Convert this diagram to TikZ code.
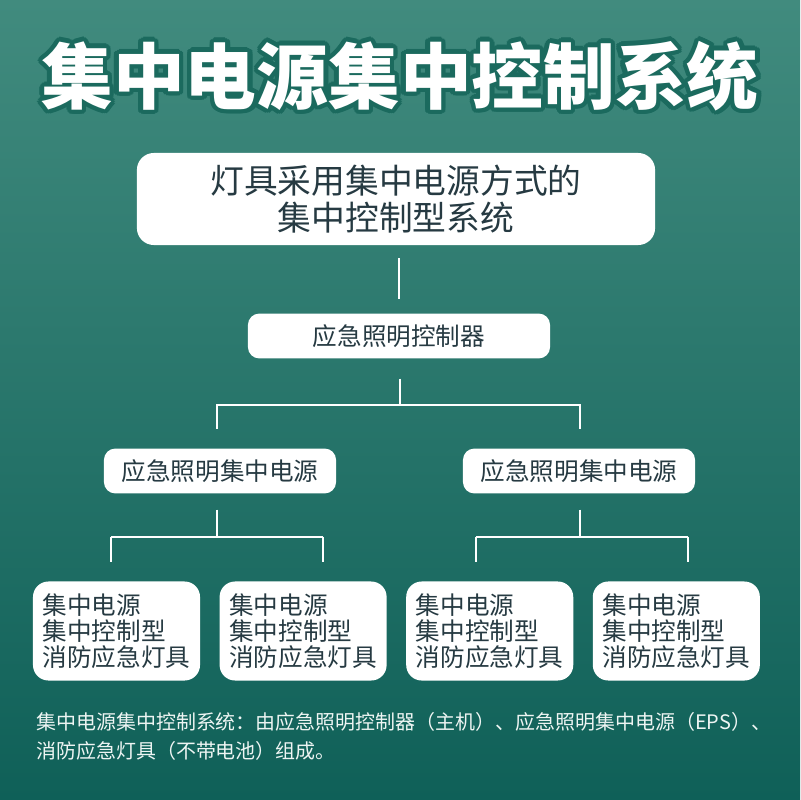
\documentclass[tikz,border=0pt]{standalone}
\usepackage{fontspec}
\usetikzlibrary{positioning, calc}
\newfontfamily\cjk{Noto Sans CJK SC}
\definecolor{bgtop}{HTML}{418B7E}
\definecolor{bgbot}{HTML}{0F6058}
\definecolor{ink}{HTML}{263A42}
\definecolor{rim}{HTML}{1B6A5E}
\definecolor{note}{HTML}{EEF5F3}

\begin{document}
\begin{tikzpicture}[
        x=0.025cm, y=-0.025cm,
        box/.style={
            rectangle,
            rounded corners=8pt,
            fill=white,
            inner sep=0pt,
            minimum height=1.12cm,
            text=ink,
            font=\cjk\fontsize{17.5}{20}\selectfont
        },
        head/.style={
            box,
            rounded corners=12pt,
            minimum width=12.95cm,
            minimum height=2.3cm,
            align=center,
            font=\cjk\fontsize{24}{26.5}\selectfont
        },
        leaf/.style={
            box,
            rounded corners=11pt,
            minimum width=4.175cm,
            minimum height=2.475cm,
            align=left,
            font=\cjk\fontsize{17.5}{18.6}\selectfont
        },
        titletext/.style={
            text=white,
            inner sep=0pt,
            font=\cjk\bfseries\fontsize{51}{60}\selectfont
        },
        link/.style={
            draw=white,
            line width=1.5pt
        }
    ]
    % background
    \useasboundingbox (0,0) rectangle (800,800);
    \shade[top color=bgtop, bottom color=bgbot] (0,0) rectangle (800,800);

    % title with outline
    \foreach \a in {0,22.5,...,337.5}
        \node[titletext, text=rim] at ($(400,76)+(\a:4.5)$) {集中电源集中控制系统};
    \node[titletext] (title) at (400,76) {集中电源集中控制系统};

    % boxes
    \node[head] (system) at (396,199) {灯具采用集中电源方式的\\集中控制型系统};
    \node[box, minimum width=7.55cm] (ctrl) at (399,336) {应急照明控制器};
    \node[box, minimum width=5.8cm] (psL) at (220,471) {应急照明集中电源};
    \node[box, minimum width=5.8cm] (psR) at (579,471) {应急照明集中电源};

    \node[leaf] (lamp1) at (116.5,631) {集中电源\\集中控制型\\消防应急灯具};
    \node[leaf, right=0.475cm of lamp1] (lamp2) {集中电源\\集中控制型\\消防应急灯具};
    \node[leaf, right=0.475cm of lamp2] (lamp3) {集中电源\\集中控制型\\消防应急灯具};
    \node[leaf, right=0.475cm of lamp3] (lamp4) {集中电源\\集中控制型\\消防应急灯具};

    % bus points
    \coordinate (busC) at ($(ctrl.south)+(1,46)$);
    \coordinate (busL) at ($(psL.south)+(-3,43)$);
    \coordinate (busR) at ($(psR.south)+(1,43)$);
    \coordinate (dropL1) at ($(busL)+(-106,0)$);
    \coordinate (dropL2) at ($(busL)+(106,0)$);
    \coordinate (dropR1) at ($(busR)+(-104,0)$);
    \coordinate (dropR2) at ($(busR)+(108,0)$);

    % connectors
    \draw[link, shorten <=0.325cm, shorten >=0.35cm] (system.south -| ctrl) -- (ctrl.north);
    \draw[link] ($(ctrl.south)+(1,20)$) -- (busC);
    \draw[link] (busC) -| ($(psL.north)+(-3,-19)$);
    \draw[link] (busC) -| ($(psR.north)+(1,-19)$);

    \draw[link] ($(psL.south)+(-3,16)$) -- (busL);
    \draw[link] (dropL1) -- (dropL2);
    \draw[link] (dropL1) -- ($(dropL1 |- lamp1.north)+(0,-19)$);
    \draw[link] (dropL2) -- ($(dropL2 |- lamp2.north)+(0,-19)$);

    \draw[link] ($(psR.south)+(1,16)$) -- (busR);
    \draw[link] (dropR1) -- (dropR2);
    \draw[link] (dropR1) -- ($(dropR1 |- lamp3.north)+(0,-19)$);
    \draw[link] (dropR2) -- ($(dropR2 |- lamp4.north)+(0,-19)$);

    % footer note
    \node[anchor=north west, align=left, inner sep=0pt, text=note,
          font=\cjk\fontsize{14.2}{20.5}\selectfont] (note) at (36,712)
        {集中电源集中控制系统：由应急照明控制器（主机）、应急照明集中电源（EPS）、\\消防应急灯具（不带电池）组成。};
\end{tikzpicture}
\end{document}
